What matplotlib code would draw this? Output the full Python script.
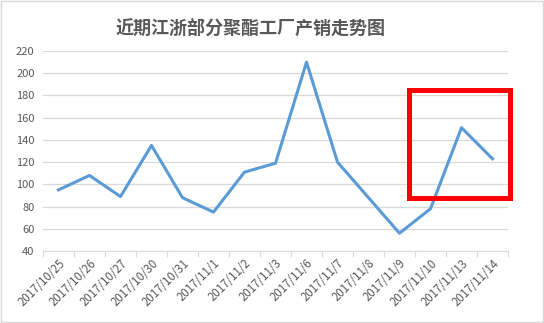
import matplotlib.pyplot as plt
from matplotlib.patches import Rectangle
from matplotlib.transforms import ScaledTranslation
import numpy as np

plt.rcParams['font.family'] = ['Noto Sans CJK SC', 'DejaVu Sans']

# 数据
dates = ['2017/10/25', '2017/10/26', '2017/10/27', '2017/10/30', '2017/10/31',
         '2017/11/1', '2017/11/2', '2017/11/3', '2017/11/6', '2017/11/7',
         '2017/11/8', '2017/11/9', '2017/11/10', '2017/11/13', '2017/11/14']
values = [95, 108, 89, 135, 88, 75, 111, 119, 210, 120, 88, 56, 78, 151, 123]
y_ticks = [40, 60, 80, 100, 120, 140, 160, 180, 200, 220]

W, H = 544, 323
fig = plt.figure(figsize=(W / 100, H / 100), dpi=100)
ax = fig.add_axes([43 / W, 1 - 251 / H, (508 - 43) / W, 200 / H])

x = np.arange(len(dates))
ax.plot(x, values, color='#5b9bd5', linewidth=2.2, solid_joinstyle='round')

ax.set_xlim(-0.5, len(dates) - 0.5)
ax.set_ylim(40, 220)
ax.set_yticks(y_ticks)
ax.grid(axis='y', color='#d9d9d9', linewidth=0.9)
ax.set_axisbelow(True)

# 类别轴：刻度在类别之间
ax.set_xticks(np.arange(-0.5, len(dates), 1.0))
ax.set_xticklabels([])
ax.set_xticks(x, minor=True)
labels = ax.set_xticklabels(dates, minor=True, rotation=45, ha='right', va='top',
                            rotation_mode='anchor', fontsize=8.3, color='#595959')
shift = ScaledTranslation(6 / 100, 0, fig.dpi_scale_trans)
for lab in labels:
    lab.set_transform(lab.get_transform() + shift)
ax.tick_params(axis='x', which='major', length=4, color='#d9d9d9')
ax.tick_params(axis='x', which='minor', length=0, pad=4)
ax.tick_params(axis='y', length=0, labelsize=8, labelcolor='#595959', pad=6)

for s in ['top', 'right', 'left']:
    ax.spines[s].set_visible(False)
ax.spines['bottom'].set_color('#d9d9d9')

fig.text(251 / W, 1 - 28 / H, '近期江浙部分聚酯工厂产销走势图', ha='center', va='center',
         fontsize=13, fontweight='bold', color='#595959')

# 外框
fig.patches.append(Rectangle((1 / W, 1 / H), 1 - 2 / W, 1 - 2 / H, transform=fig.transFigure,
                             fill=False, edgecolor='#d9d9d9', linewidth=1))
# 红色标注框
fig.patches.append(Rectangle((409 / W, 1 - 198 / H), 101 / W, 108 / H, transform=fig.transFigure,
                             fill=False, edgecolor='#ff0000', linewidth=3.6))

fig.savefig('out.png', dpi=100)
